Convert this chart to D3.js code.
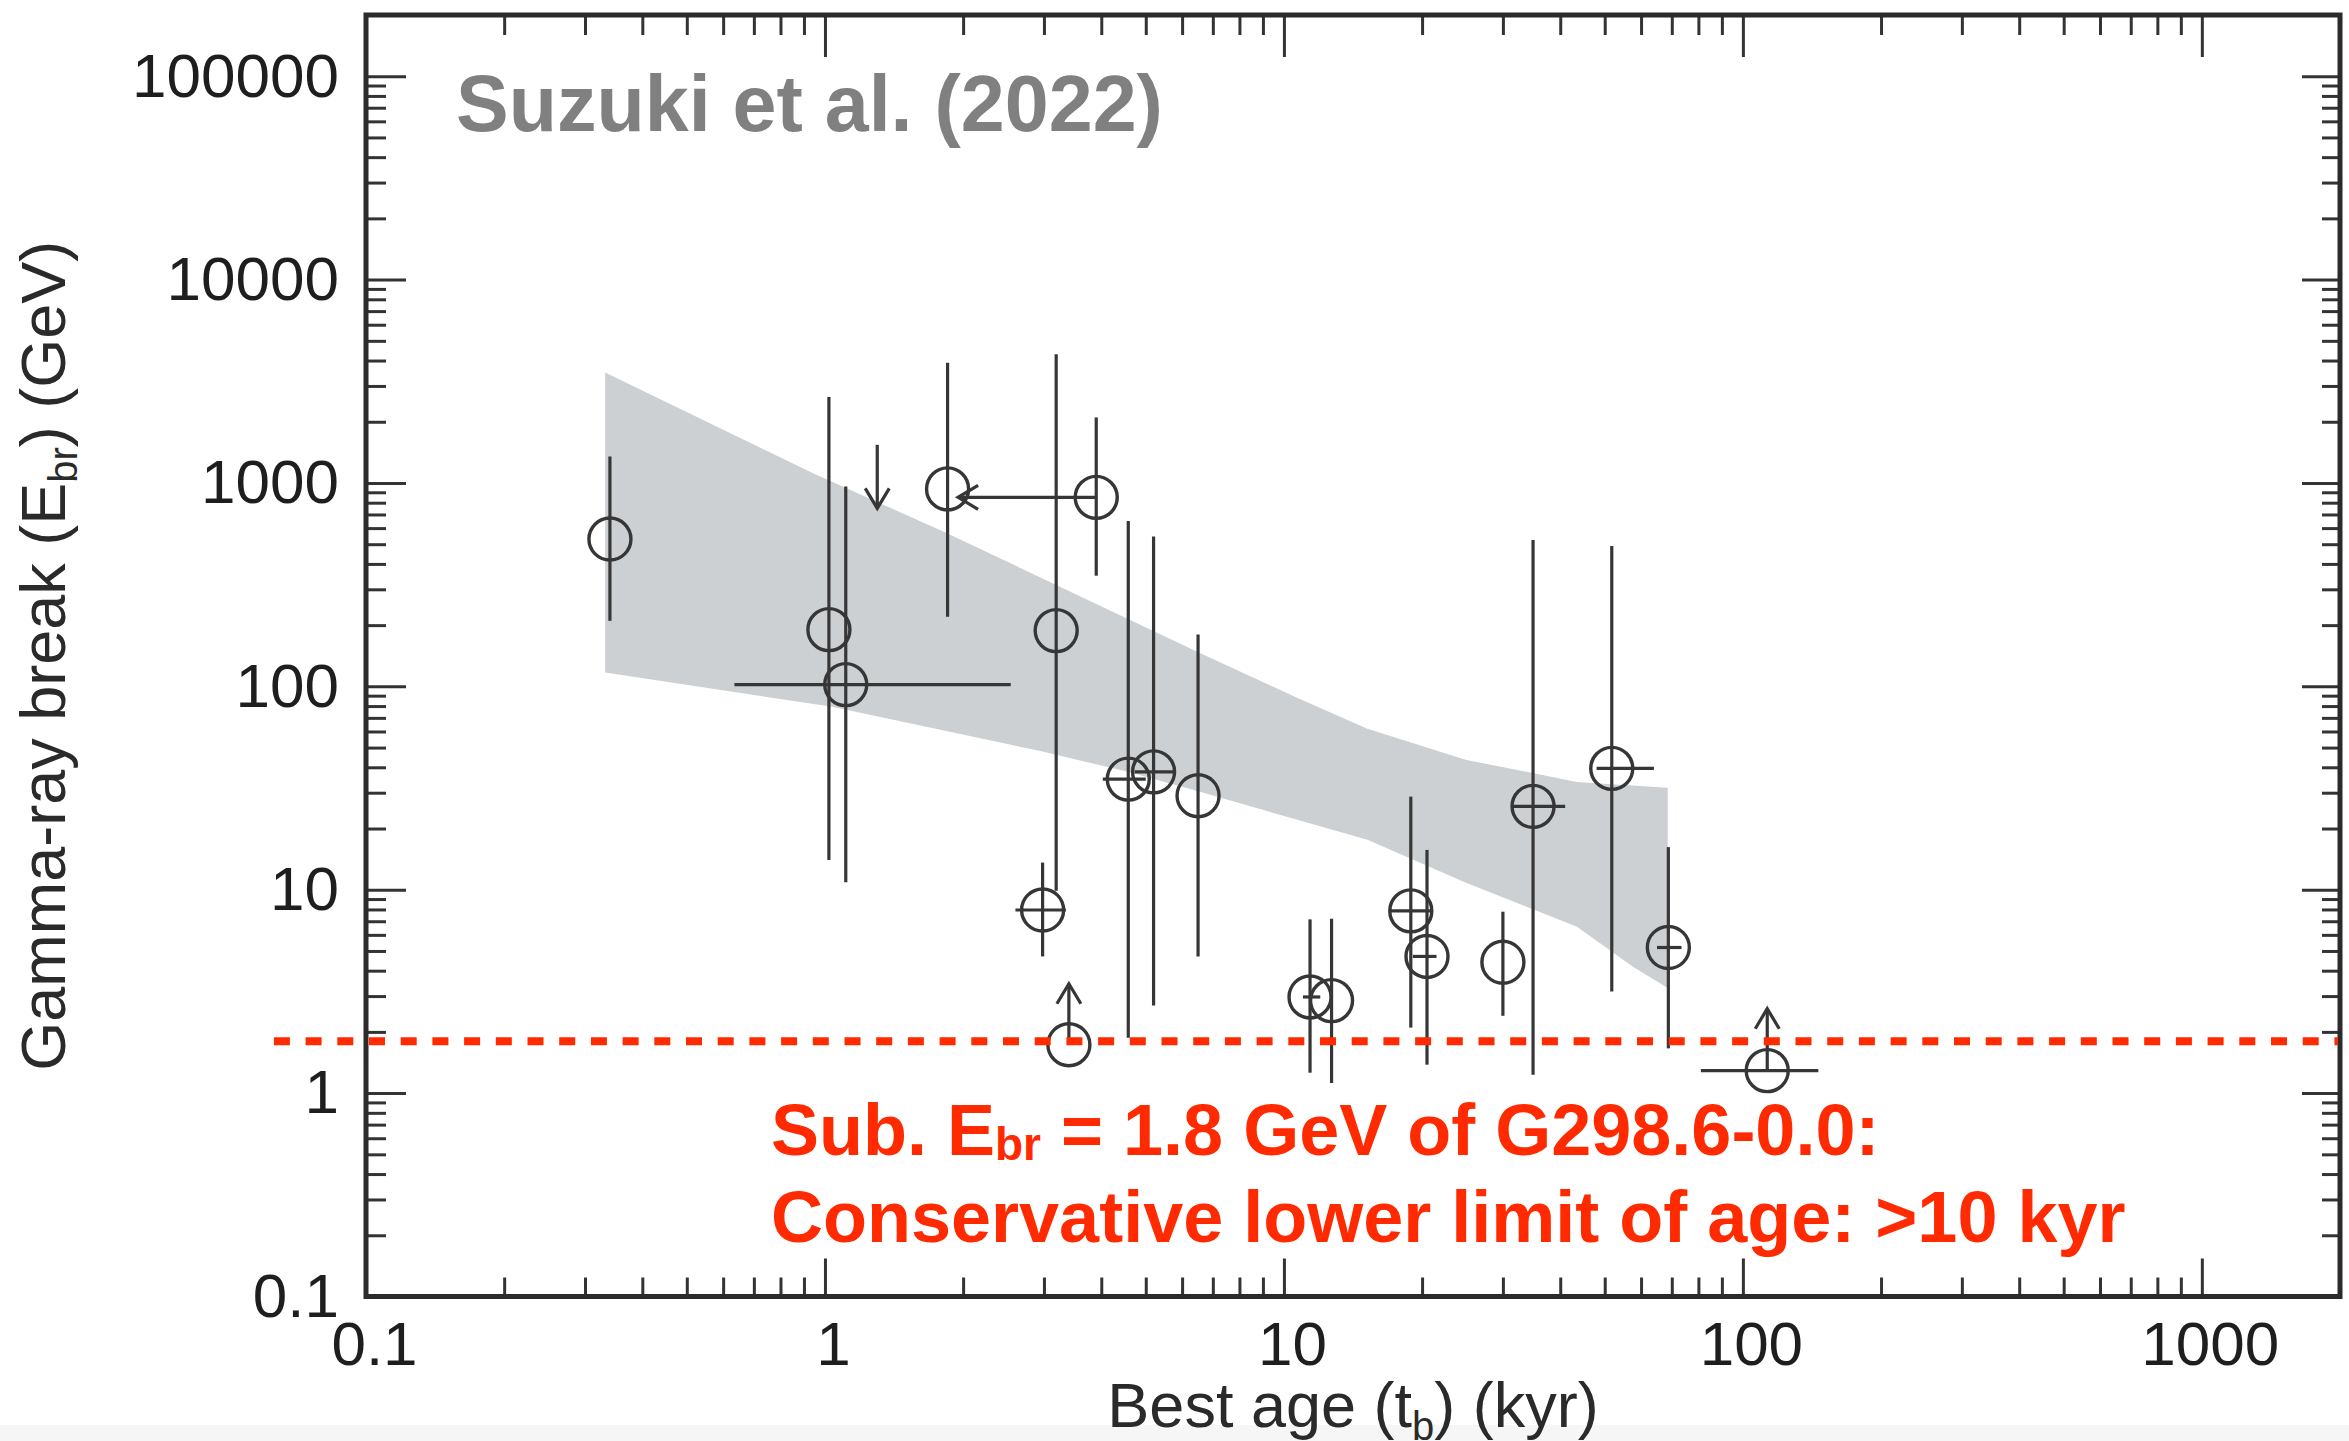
<!DOCTYPE html>
<html>
<head>
<meta charset="utf-8">
<script src="https://cdn.jsdelivr.net/npm/d3@7"></script>
<style>
  html, body { margin: 0; padding: 0; background: #ffffff; }
  svg { display: block; }
  text { font-family: "Liberation Sans", Arial, Helvetica, sans-serif; }
</style>
</head>
<body>
<svg id="chart" width="2349" height="1441"></svg>
<script>
// ---- Supernova remnants: best age (kyr) vs gamma-ray break energy (GeV) ----
const age     = [0.34, 1.02, 1.11, 1.85, 3.9, 3.19, 2.98, 3.4, 4.58, 5.2, 6.5, 11.4, 12.7, 18.9, 20.5, 30, 34.9, 51.8, 68.8, 113];
const eBreak  = [530, 190, 102, 935, 850, 188, 7.95, 1.73, 35, 38, 29, 2.97, 2.85, 7.87, 4.7, 4.4, 25.7, 39.5, 5.2, 1.29];
const eLow    = [210, 14, 10.9, 220, 350, 9.9, 4.7, null, 1.87, 2.7, 4.7, 1.26, 1.12, 2.1, 1.38, 2.4, 1.23, 3.16, 1.66, null];
const eHigh   = [1350, 2650, 960, 3900, 2100, 4300, 13.6, null, 650, 545, 180, 7.15, 7.2, 28.7, 15.7, 7.8, 525, 490, 16.2, null];
const ageLow  = [null, null, 0.635, null, null, null, 2.6, null, 4.03, 4.73, null, 11.0, null, 17.1, 19.1, null, 31.5, 48, 65, 81];
const ageHigh = [null, null, 2.54, null, null, null, 3.35, null, 5.0, 5.8, null, 12.0, null, 21.1, 21.5, null, 41, 64, 73.5, 146];
// limits drawn as arrows from the marker
const ageLimitTo = [null, null, null, null, 1.95, null, null, null, null, null, null, null, null, null, null, null, null, null, null, null];
const eLimitTo   = [null, null, null, null, null, null, null, 3.45, null, null, null, null, null, null, null, null, null, null, null, 2.6];
// energy upper limit without a best-fit marker
const ulAge  = [1.30];
const ulFrom = [1540];
const ulTo   = [750];

// model band
const bandUpperAge = [0.332, 0.937, 1.835, 6.56, 10.8, 15.2, 25.0, 43.5, 68.6];
const bandUpperE   = [3490, 1124, 569, 146, 86.9, 61.8, 43.5, 33.9, 31.7];
const bandLowerAge = [0.332, 1.036, 2.93, 4.57, 6.56, 15.2, 25.0, 43.5, 57.6, 68.6];
const bandLowerE   = [117, 79.4, 48.2, 38.0, 30.3, 17.6, 10.8, 6.57, 4.18, 3.29];

// reference break energy of G298.6-0.0
const subBreakE = 1.8;
const subLineAge = [0.063, 2000];

// axes
const xMajor = [0.1, 1, 10, 100, 1000];
const xTickLabels = ["0.1", "1", "10", "100", "1000"];
const yMajor = [0.1, 1, 10, 100, 1000, 10000, 100000];
const yTickLabels = ["0.1", "1", "10", "100", "1000", "10000", "100000"];
const xDomain = [0.1, 2000];
const yDomain = [0.1, 2e5];

const svg = d3.select("#chart");
const L = 366, R = 2340, T = 15, B = 1296.5;

const x = d3.scaleLog().domain(xDomain).range([L, R]);
const y = d3.scaleLog().domain(yDomain).range([B, T]);

function minorTicks(lo, hi) {
  const out = [];
  for (let e = Math.floor(Math.log10(lo)); Math.pow(10, e) < hi; e++) {
    for (let k = 2; k <= 9; k++) {
      const v = k * Math.pow(10, e);
      if (v > lo * 1.0001 && v <= hi * 1.0001) out.push(v);
    }
  }
  return out;
}
const xMinor = minorTicks(xDomain[0], xDomain[1]);
const yMinor = minorTicks(yDomain[0], yDomain[1]);

svg.append("rect").attr("x", 0).attr("y", 0).attr("width", 2349).attr("height", 1441).attr("fill", "#ffffff");
svg.append("rect").attr("x", 0).attr("y", 1425).attr("width", 2349).attr("height", 16).attr("fill", "#f6f6f6");

// ---- band ----
const bandPts = bandUpperAge.map((a, i) => [a, bandUpperE[i]])
  .concat(bandLowerAge.map((a, i) => [a, bandLowerE[i]]).reverse());
svg.append("path")
  .attr("d", d3.line().x(d => x(d[0])).y(d => y(d[1])).curve(d3.curveLinearClosed)(bandPts))
  .attr("fill", "#cdd0d2");

// ---- data ----
const ink = "#363636";
const gData = svg.append("g").attr("stroke", ink).attr("fill", "none").attr("stroke-width", 3.2);
const idx = d3.range(age.length);

// vertical error bars
gData.selectAll("line.ey").data(idx.filter(i => eLow[i] !== null)).join("line")
  .attr("x1", i => x(age[i])).attr("x2", i => x(age[i]))
  .attr("y1", i => y(eHigh[i])).attr("y2", i => y(eLow[i]));

// horizontal error bars
gData.selectAll("line.ex").data(idx.filter(i => ageLow[i] !== null)).join("line")
  .attr("x1", i => x(ageLow[i])).attr("x2", i => x(ageHigh[i]))
  .attr("y1", i => y(eBreak[i])).attr("y2", i => y(eBreak[i]));

// arrowheads
function arrowHead(tx, ty, dir) {
  const len = 20, hw = 12;
  if (dir === "up")    return `M${tx - hw},${ty + len}L${tx},${ty}L${tx + hw},${ty + len}`;
  if (dir === "down")  return `M${tx - hw},${ty - len}L${tx},${ty}L${tx + hw},${ty - len}`;
  if (dir === "left")  return `M${tx + len},${ty - hw}L${tx},${ty}L${tx + len},${ty + hw}`;
  return "";
}

// age limits (leftward arrows)
idx.filter(i => ageLimitTo[i] !== null).forEach(i => {
  gData.append("line").attr("x1", x(age[i])).attr("x2", x(ageLimitTo[i]))
    .attr("y1", y(eBreak[i])).attr("y2", y(eBreak[i]));
  gData.append("path").attr("d", arrowHead(x(ageLimitTo[i]), y(eBreak[i]), "left"));
});
// energy lower limits (upward arrows)
idx.filter(i => eLimitTo[i] !== null).forEach(i => {
  gData.append("line").attr("x1", x(age[i])).attr("x2", x(age[i]))
    .attr("y1", y(eBreak[i])).attr("y2", y(eLimitTo[i]));
  gData.append("path").attr("d", arrowHead(x(age[i]), y(eLimitTo[i]), "up"));
});
// upper limit without marker
ulAge.forEach((a, i) => {
  gData.append("line").attr("x1", x(a)).attr("x2", x(a))
    .attr("y1", y(ulFrom[i])).attr("y2", y(ulTo[i]));
  gData.append("path").attr("d", arrowHead(x(a), y(ulTo[i]), "down"));
});

// markers
gData.selectAll("circle").data(idx).join("circle")
  .attr("cx", i => x(age[i])).attr("cy", i => y(eBreak[i])).attr("r", 21)
  .attr("stroke-width", 3.4);

// ---- axes ----
function styleAxis(g) {
  g.select(".domain").remove();
  g.selectAll(".tick line").attr("stroke", "#333").attr("stroke-width", 3);
  g.selectAll(".tick text").attr("fill", "#1e1e1e").attr("font-size", 62)
    .attr("font-family", '"Liberation Sans", Arial, Helvetica, sans-serif');
}

svg.append("g").attr("transform", `translate(${L},0)`)
  .call(d3.axisLeft(y).tickValues(yMajor).tickFormat((d, i) => yTickLabels[i]).tickSizeInner(-40).tickSizeOuter(0).tickPadding(27))
  .call(styleAxis);
svg.append("g").attr("transform", `translate(${L},0)`)
  .call(d3.axisLeft(y).tickValues(yMinor).tickFormat("").tickSizeInner(-20).tickSizeOuter(0))
  .call(styleAxis);
svg.append("g").attr("transform", `translate(${R},0)`)
  .call(d3.axisRight(y).tickValues(yMajor).tickFormat("").tickSizeInner(-38).tickSizeOuter(0))
  .call(styleAxis);
svg.append("g").attr("transform", `translate(${R},0)`)
  .call(d3.axisRight(y).tickValues(yMinor).tickFormat("").tickSizeInner(-18).tickSizeOuter(0))
  .call(styleAxis);

const gxb = svg.append("g").attr("transform", `translate(0,${B})`)
  .call(d3.axisBottom(x).tickValues(xMajor).tickFormat((d, i) => xTickLabels[i]).tickSizeInner(-38).tickSizeOuter(0).tickPadding(24))
  .call(styleAxis);
gxb.selectAll(".tick text").attr("dx", 8);
svg.append("g").attr("transform", `translate(0,${B})`)
  .call(d3.axisBottom(x).tickValues(xMinor).tickFormat("").tickSizeInner(-19).tickSizeOuter(0))
  .call(styleAxis);
svg.append("g").attr("transform", `translate(0,${T})`)
  .call(d3.axisTop(x).tickValues(xMajor).tickFormat("").tickSizeInner(-42).tickSizeOuter(0))
  .call(styleAxis);
svg.append("g").attr("transform", `translate(0,${T})`)
  .call(d3.axisTop(x).tickValues(xMinor).tickFormat("").tickSizeInner(-20).tickSizeOuter(0))
  .call(styleAxis);

// frame
svg.append("rect").attr("x", L).attr("y", T).attr("width", R - L).attr("height", B - T)
  .attr("fill", "none").attr("stroke", "#2b2b2b").attr("stroke-width", 5);

// ---- axis titles ----
const yTitle = svg.append("text")
  .attr("transform", `translate(65,${(T + B) / 2}) rotate(-90)`)
  .attr("text-anchor", "middle").attr("font-size", 63).attr("fill", "#2a2a2a");
yTitle.append("tspan").text("Gamma-ray break (E");
yTitle.append("tspan").attr("font-size", 40).attr("dy", 12).text("br");
yTitle.append("tspan").attr("dy", -12).text(") (GeV)");

const xTitle = svg.append("text")
  .attr("x", (L + R) / 2).attr("y", 1427)
  .attr("text-anchor", "middle").attr("font-size", 63).attr("fill", "#2a2a2a");
xTitle.append("tspan").text("Best age (t");
xTitle.append("tspan").attr("font-size", 40).attr("dy", 13).text("b");
xTitle.append("tspan").attr("dy", -13).text(") (kyr)");

// ---- annotations ----
svg.append("text").attr("x", 456).attr("y", 131)
  .attr("font-size", 79).attr("font-weight", "bold").attr("fill", "#808080")
  .text("Suzuki et al. (2022)");

const red = "#ff2a00";
svg.append("line")
  .attr("x1", x(subLineAge[0])).attr("x2", x(subLineAge[1]) - 2)
  .attr("y1", y(subBreakE)).attr("y2", y(subBreakE))
  .attr("stroke", red).attr("stroke-width", 8).attr("stroke-dasharray", "16,15.7");

const note1 = svg.append("text").attr("x", 771).attr("y", 1155)
  .attr("font-size", 72).attr("font-weight", "bold").attr("fill", red);
note1.append("tspan").text("Sub. E");
note1.append("tspan").attr("font-size", 46).attr("dy", 5).text("br");
note1.append("tspan").attr("dy", -5).text(` = ${subBreakE} GeV of G298.6-0.0:`);

svg.append("text").attr("x", 771).attr("y", 1242)
  .attr("font-size", 72).attr("font-weight", "bold").attr("fill", red)
  .text("Conservative lower limit of age: >10 kyr");
</script>
</body>
</html>
